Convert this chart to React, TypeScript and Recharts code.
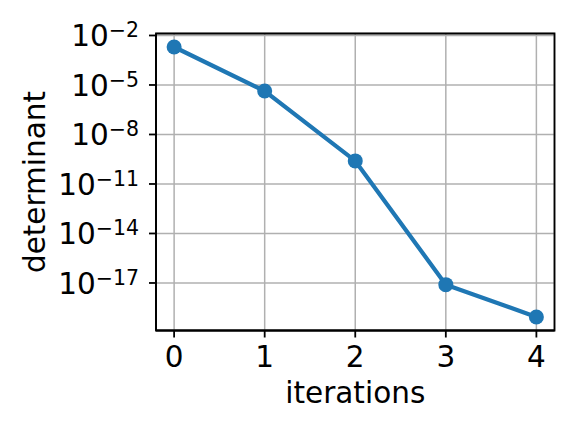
import { CartesianGrid, Line, LineChart, ReferenceArea, XAxis, YAxis } from "recharts";

const iterations = [0, 1, 2, 3, 4];
const determinant = [2.0e-3, 4.3e-6, 2.5e-10, 7.9e-18, 8.7e-20];
const xTicks = [0, 1, 2, 3, 4];
const yExponents = [-2, -5, -8, -11, -14, -17];

const data = iterations.map((it, i) => ({ it, det: determinant[i] }));
const yTicks = yExponents.map((e) => Math.pow(10, e));

const FONT = "DejaVu Sans, sans-serif";
const BLUE = "#1f77b4";
const yMin = Math.pow(10, -19.88);
const yMax = Math.pow(10, -1.88);

function PowTick({ x, y, payload }: any) {
    const exp = Math.round(Math.log10(payload.value));
    return (
        <text x={x} y={y + 11} textAnchor="end" fontFamily={FONT} fontSize={29.5} fill="#000">
            <tspan>10</tspan>
            <tspan dy={-9} fontSize={20.5}>
                {"\u2212" + Math.abs(exp)}
            </tspan>
        </text>
    );
}

export default function App() {
    return (
        <div style={{ position: "absolute", left: 0, top: 0, background: "#fff" }}>
            <LineChart
                width={576}
                height={432}
                data={data}
                margin={{ top: 33.5, right: 21.5, left: 0, bottom: 0 }}
            >
                <CartesianGrid stroke="#b0b0b0" strokeWidth={1.5} />
                <XAxis
                    dataKey="it"
                    type="number"
                    domain={[-0.2, 4.2]}
                    ticks={xTicks}
                    height={101.5}
                    tickSize={7}
                    tickMargin={9}
                    axisLine={{ stroke: "#000", strokeWidth: 1.8 }}
                    tickLine={{ stroke: "#000", strokeWidth: 1.8 }}
                    tick={{ fill: "#000", fontSize: 29.5, fontFamily: FONT }}
                    label={{
                        content: ({ viewBox }: any) => (
                            <text
                                x={viewBox.x + viewBox.width / 2}
                                y={403}
                                textAnchor="middle"
                                fontFamily={FONT}
                                fontSize={29.5}
                                fill="#000"
                            >
                                iterations
                            </text>
                        ),
                    }}
                />
                <YAxis
                    dataKey="det"
                    type="number"
                    scale="log"
                    domain={[yMin, yMax]}
                    allowDataOverflow
                    ticks={yTicks}
                    width={156}
                    tickSize={7}
                    tickMargin={10}
                    axisLine={{ stroke: "#000", strokeWidth: 1.8 }}
                    tickLine={{ stroke: "#000", strokeWidth: 1.8 }}
                    tick={<PowTick />}
                    label={{
                        content: ({ viewBox }: any) => (
                            <text
                                x={45}
                                y={viewBox.y + viewBox.height / 2}
                                transform={`rotate(-90, 45, ${viewBox.y + viewBox.height / 2})`}
                                textAnchor="middle"
                                fontFamily={FONT}
                                fontSize={29.5}
                                fill="#000"
                            >
                                determinant
                            </text>
                        ),
                    }}
                />
                <Line
                    dataKey="det"
                    stroke={BLUE}
                    strokeWidth={4.2}
                    dot={{ r: 7.5, fill: BLUE, stroke: BLUE, strokeWidth: 0 }}
                    isAnimationActive={false}
                />
                <ReferenceArea
                    x1={-0.2}
                    x2={4.2}
                    y1={yMin}
                    y2={yMax}
                    fill="none"
                    stroke="#000"
                    strokeWidth={1.8}
                    fillOpacity={0}
                />
            </LineChart>
        </div>
    );
}
